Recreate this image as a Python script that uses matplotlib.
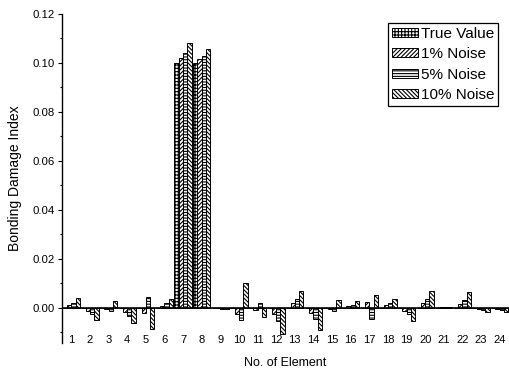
import numpy as np
import matplotlib
matplotlib.use('Agg')
import matplotlib.pyplot as plt
from matplotlib.ticker import MultipleLocator

plt.rcParams['font.family'] = ['Liberation Sans', 'DejaVu Sans']
plt.rcParams['hatch.linewidth'] = 0.8

# data
elements = list(range(1, 25))
true_value = [0, 0, 0, 0, 0, 0, 0.100, 0.100, 0, 0, 0, 0,
              0, 0, 0, 0, 0, 0, 0, 0, 0, 0, 0, 0]
noise_1 = [0.0010, -0.0015, -0.0004, -0.0018, -0.0023, 0.0008, 0.1020, 0.1015,
           -0.0002, -0.0026, -0.0012, -0.0026, 0.0019, -0.0023, -0.0007, 0.0005,
           0.0023, 0.0010, -0.0014, 0.0019, 0.0001, 0.0015, -0.0005, -0.0004]
noise_5 = [0.0020, -0.0026, -0.0015, -0.0034, 0.0042, 0.0019, 0.1040, 0.1028,
           -0.0004, -0.0053, 0.0020, -0.0056, 0.0035, -0.0048, -0.0015, 0.0012,
           -0.0048, 0.0018, -0.0027, 0.0035, 0.0001, 0.0030, -0.0010, -0.0009]
noise_10 = [0.0038, -0.0053, 0.0026, -0.0064, -0.0088, 0.0034, 0.1080, 0.1057,
            -0.0005, 0.0099, -0.0040, -0.0107, 0.0068, -0.0093, 0.0031, 0.0026,
            0.0052, 0.0035, -0.0054, 0.0069, 0.0001, 0.0063, -0.0020, -0.0020]

series = [true_value, noise_1, noise_5, noise_10]
labels = ['True Value', '1% Noise', '5% Noise', '10% Noise']
hatches = ['+++++', '////////', '------', '\\\\\\\\\\\\\\\\']

fig = plt.figure(figsize=(5.1, 3.78), dpi=100)
ax = fig.add_axes([62 / 510, 1 - 343 / 378, 447 / 510, (343 - 14) / 378])

x = np.array(elements)
w = 0.23
for i, (vals, lab, h) in enumerate(zip(series, labels, hatches)):
    ax.bar(x + (i - 1.5) * w, vals, width=w, facecolor='white', edgecolor='black',
           hatch=h, linewidth=0.7, label=lab, zorder=2)

ax.axhline(0, color='black', linewidth=1.2, zorder=3)

ax.set_xlim(0.5, 24.5)
ax.set_ylim(-0.0145, 0.12)
ax.set_xticks(elements)
ax.set_xticklabels([str(e) for e in elements])
ax.yaxis.set_minor_locator(MultipleLocator(0.01))
ax.set_yticks(np.arange(0, 0.121, 0.02))
ax.set_yticklabels(['%.2f' % v for v in np.arange(0, 0.121, 0.02)])

for s in ['top', 'right', 'bottom']:
    ax.spines[s].set_visible(False)
ax.spines['left'].set_linewidth(1.0)

ax.tick_params(axis='x', length=0, pad=-6, labelsize=8)
ax.tick_params(axis='y', which='major', length=3, width=0.8, labelsize=8.2, pad=2.5)
ax.tick_params(axis='y', which='minor', length=1.8, width=0.8)

ax.set_xlabel('No. of Element', fontsize=9, labelpad=9)
ax.set_ylabel('Bonding Damage Index', fontsize=10, labelpad=7)

leg = ax.legend(loc='upper right', bbox_to_anchor=(0.976, 0.973), fontsize=11,
                frameon=True, fancybox=False, edgecolor='black', framealpha=1,
                handlelength=1.7, handleheight=0.55, handletextpad=0.2,
                labelspacing=0.42, borderpad=0.25, borderaxespad=0)
leg.get_frame().set_linewidth(0.9)

fig.savefig('out.png', dpi=100)
